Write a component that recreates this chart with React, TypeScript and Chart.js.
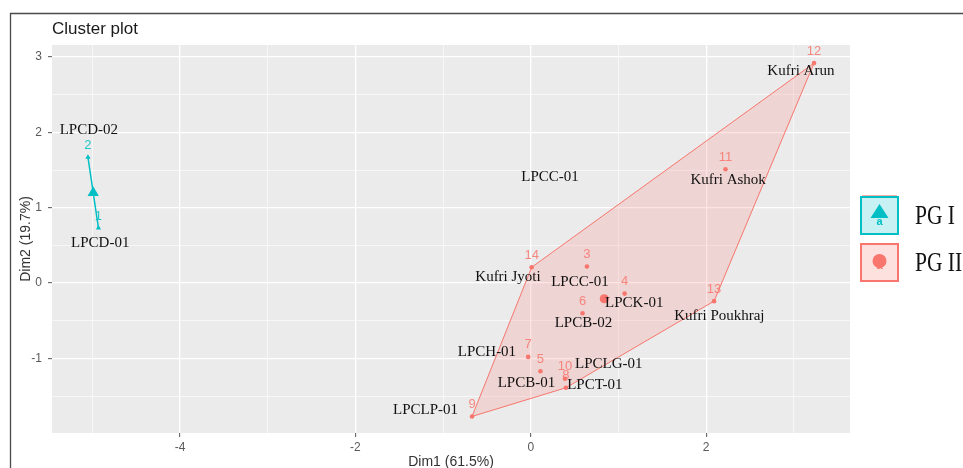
import React, { useEffect, useRef } from "react";
import { Chart, registerables } from "chart.js";

Chart.register(...registerables);

// ---------- data ----------
const pointIds = [1, 2, 3, 4, 5, 6, 7, 8, 9, 10, 11, 12, 13, 14];
const dim1 = [-4.93, -5.05, 0.64, 1.07, 0.11, 0.59, -0.03, 0.4, -0.67, 0.39, 2.22, 3.23, 2.09, 0.01];
const dim2 = [0.73, 1.67, 0.22, -0.14, -1.17, -0.4, -0.98, -1.39, -1.77, -1.27, 1.51, 2.92, -0.24, 0.21];
const clusterOf = [0, 0, 1, 1, 1, 1, 1, 1, 1, 1, 1, 1, 1, 1];
const clusterNames = ["PG I", "PG II"];
const clusterColors = ["#00BFC4", "#F8766D"];
const clusterRGB = ["0,191,196", "248,118,109"];
const clusterShapes = ["triangle", "circle"];

// text annotations (data coordinates)
const nameTexts = [
  "LPCD-02", "LPCD-01", "LPCC-01", "Kufri Jyoti", "LPCC-01", "LPCK-01", "LPCB-02",
  "Kufri Poukhraj", "LPCH-01", "LPCLG-01", "LPCB-01", "LPCT-01", "LPCLP-01", "Kufri Arun", "Kufri Ashok",
];
const nameX = [-5.04, -4.91, 0.22, -0.26, 0.56, 1.18, 0.6, 2.15, -0.5, 0.89, -0.05, 0.73, -1.2, 3.08, 2.25];
const nameY = [2.03, 0.53, 1.41, 0.08, 0.02, -0.27, -0.53, -0.44, -0.92, -1.08, -1.33, -1.36, -1.68, 2.81, 1.37];

// axes
const xTicks = [-5, -4, -3, -2, -1, 0, 1, 2, 3];
const xLabelled = [-4, -2, 0, 2];
const yTicks = [-1.5, -1, -0.5, 0, 0.5, 1, 1.5, 2, 2.5, 3];
const yLabelled = [-1, 0, 1, 2, 3];
const xRange = [-5.46, 3.64];
const yRange = [-1.99, 3.16];
const xTitle = "Dim1 (61.5%)";
const yTitle = "Dim2 (19.7%)";
const chartTitle = "Cluster plot";

type P = { x: number; y: number };

function convexHull(pts: P[]): P[] {
  const s = [...pts].sort((a, b) => a.x - b.x || a.y - b.y);
  if (s.length < 3) return [...s, s[0]];
  const cross = (o: P, a: P, b: P) => (a.x - o.x) * (b.y - o.y) - (a.y - o.y) * (b.x - o.x);
  const lower: P[] = [];
  for (const p of s) {
    while (lower.length >= 2 && cross(lower[lower.length - 2], lower[lower.length - 1], p) <= 0) lower.pop();
    lower.push(p);
  }
  const upper: P[] = [];
  for (let i = s.length - 1; i >= 0; i--) {
    const p = s[i];
    while (upper.length >= 2 && cross(upper[upper.length - 2], upper[upper.length - 1], p) <= 0) upper.pop();
    upper.push(p);
  }
  upper.pop();
  lower.pop();
  const h = [...lower, ...upper];
  return [...h, h[0]];
}

export default function App() {
  const ref = useRef<HTMLCanvasElement | null>(null);

  useEffect(() => {
    const canvas = ref.current;
    if (!canvas) return;

    const datasets: any[] = [];
    clusterNames.forEach((name, c) => {
      const pts: P[] = [];
      pointIds.forEach((_, i) => {
        if (clusterOf[i] === c) pts.push({ x: dim1[i], y: dim2[i] });
      });
      const cx = pts.reduce((a, p) => a + p.x, 0) / pts.length;
      const cy = pts.reduce((a, p) => a + p.y, 0) / pts.length;
      datasets.push({
        type: "line",
        label: name + " hull",
        data: convexHull(pts),
        borderColor: clusterColors[c],
        borderWidth: c === 0 ? 1.5 : 1,
        backgroundColor: `rgba(${clusterRGB[c]},0.2)`,
        fill: "shape",
        pointRadius: 0,
        tension: 0,
        order: 3,
      });
      datasets.push({
        type: "scatter",
        label: name,
        data: pts,
        pointStyle: clusterShapes[c],
        pointRadius: c === 0 ? 3 : 2.3,
        backgroundColor: clusterColors[c],
        borderColor: clusterColors[c],
        borderWidth: 0,
        order: 2,
      });
      datasets.push({
        type: "scatter",
        label: name + " centre",
        data: [{ x: cx, y: cy }],
        pointStyle: clusterShapes[c],
        pointRadius: c === 0 ? 6.5 : 4.5,
        backgroundColor: clusterColors[c],
        borderColor: clusterColors[c],
        borderWidth: 0,
        order: 1,
      });
    });

    const decor = {
      id: "decor",
      beforeDraw(chart: any) {
        const { ctx, chartArea: a, width, height } = chart;
        ctx.save();
        ctx.fillStyle = "#ffffff";
        ctx.fillRect(0, 0, width, height);
        ctx.fillStyle = "#EBEBEB";
        ctx.fillRect(a.left, a.top, a.right - a.left, a.bottom - a.top);
        ctx.restore();
      },
      afterDatasetsDraw(chart: any) {
        const { ctx, scales } = chart;
        const xs = scales.x;
        const ys = scales.y;
        ctx.save();
        // number labels
        ctx.font = "13px 'Liberation Sans', Arial, sans-serif";
        ctx.textAlign = "center";
        ctx.textBaseline = "middle";
        pointIds.forEach((id, i) => {
          const px = xs.getPixelForValue(dim1[i]);
          const py = ys.getPixelForValue(dim2[i]);
          ctx.fillStyle = `rgba(${clusterRGB[clusterOf[i]]},0.85)`;
          ctx.fillText(String(id), px, py - 12);
        });
        // name labels
        ctx.font = "15px 'Liberation Serif', 'Times New Roman', serif";
        ctx.fillStyle = "#111111";
        nameTexts.forEach((t, i) => {
          ctx.fillText(t, xs.getPixelForValue(nameX[i]), ys.getPixelForValue(nameY[i]));
        });
        ctx.restore();
      },
      afterDraw(chart: any) {
        const { ctx, chartArea: a, width, height } = chart;
        ctx.save();
        // frame
        ctx.strokeStyle = "#4a4a4a";
        ctx.lineWidth = 1.3;
        ctx.beginPath();
        ctx.moveTo(10.5, height);
        ctx.lineTo(10.5, 13.5);
        ctx.lineTo(width, 13.5);
        ctx.stroke();
        // title
        ctx.fillStyle = "#1a1a1a";
        ctx.font = "17px 'Liberation Sans', Arial, sans-serif";
        ctx.textAlign = "left";
        ctx.textBaseline = "middle";
        ctx.fillText(chartTitle, a.left, 29);
        // legend
        const size = 37;
        const gap = 47;
        const lx = a.right + 11;
        const mid = (a.top + a.bottom) / 2;
        const ly0 = mid - (gap + size) / 2;
        clusterNames.forEach((name, c) => {
          const y = ly0 + c * gap;
          ctx.fillStyle = `rgba(${clusterRGB[c]},0.22)`;
          ctx.fillRect(lx, y, size, size);
          ctx.strokeStyle = clusterColors[c];
          ctx.lineWidth = 2;
          ctx.strokeRect(lx, y, size, size);
          const cx = lx + size / 2;
          ctx.fillStyle = clusterColors[c];
          if (clusterShapes[c] === "triangle") {
            ctx.beginPath();
            ctx.moveTo(cx, y + 7);
            ctx.lineTo(cx + 9, y + 21);
            ctx.lineTo(cx - 9, y + 21);
            ctx.closePath();
            ctx.fill();
          } else {
            ctx.beginPath();
            ctx.arc(cx, y + 17, 7, 0, Math.PI * 2);
            ctx.fill();
          }
          ctx.font = "bold 11px 'Liberation Sans', Arial, sans-serif";
          ctx.textAlign = "center";
          ctx.textBaseline = "middle";
          ctx.fillText("a", cx, y + (c === 0 ? 25 : 22));
          // label text
          ctx.save();
          ctx.translate(lx + size + 17, y + size / 2 + 1);
          ctx.scale(1, 1.25);
          ctx.fillStyle = "#111111";
          ctx.font = "21.5px 'Liberation Serif', 'Times New Roman', serif";
          ctx.textAlign = "left";
          ctx.textBaseline = "middle";
          ctx.fillText(name, 0, 0);
          ctx.restore();
        });
        // small accent line on top of the legend
        ctx.strokeStyle = "rgba(248,118,109,0.6)";
        ctx.lineWidth = 1;
        ctx.beginPath();
        ctx.moveTo(lx + 1, ly0 - 1.5);
        ctx.lineTo(lx + size - 1, ly0 - 1.5);
        ctx.stroke();
        ctx.restore();
      },
    };

    const gridOpts = (labelled: number[]) => ({
      color: "#ffffff",
      lineWidth: (ctx: any) => (ctx.tick && labelled.includes(ctx.tick.value) ? 1.3 : 0.6),
      tickColor: (ctx: any) => (ctx.tick && labelled.includes(ctx.tick.value) ? "#555555" : "rgba(0,0,0,0)"),
      tickLength: 4,
      tickWidth: 1,
      drawTicks: true,
    });

    const chart = new Chart(canvas, {
      type: "scatter",
      data: { datasets },
      plugins: [decor],
      options: {
        animation: false,
        responsive: false,
        devicePixelRatio: 1,
        layout: { padding: { left: 0, right: 113, top: 45, bottom: 0 } },
        plugins: {
          legend: { display: false },
          tooltip: { enabled: false },
          title: { display: false },
        },
        scales: {
          x: {
            type: "linear",
            min: xRange[0],
            max: xRange[1],
            afterBuildTicks: (s: any) => {
              s.ticks = xTicks.map((v) => ({ value: v }));
            },
            afterFit: (s: any) => {
              s.height = 35;
            },
            ticks: {
              autoSkip: false,
              maxRotation: 0,
              padding: 3,
              color: "#595959",
              font: { size: 12, family: "'Liberation Sans', Arial, sans-serif" },
              callback: (v: any) => (xLabelled.includes(Number(v)) ? String(v) : ""),
            },
            grid: gridOpts(xLabelled),
            border: { display: false },
            title: {
              display: true,
              text: xTitle,
              color: "#333333",
              font: { size: 14, lineHeight: 0.86, family: "'Liberation Sans', Arial, sans-serif" },
              padding: 0,
            },
          },
          y: {
            type: "linear",
            min: yRange[0],
            max: yRange[1],
            afterBuildTicks: (s: any) => {
              s.ticks = yTicks.map((v) => ({ value: v }));
            },
            afterFit: (s: any) => {
              s.width = 52;
            },
            ticks: {
              autoSkip: false,
              padding: 6,
              color: "#595959",
              font: { size: 12, family: "'Liberation Sans', Arial, sans-serif" },
              callback: (v: any) => (yLabelled.includes(Number(v)) ? String(v) : ""),
            },
            grid: gridOpts(yLabelled),
            border: { display: false },
            title: {
              display: true,
              text: yTitle,
              color: "#333333",
              font: { size: 14, lineHeight: 1, family: "'Liberation Sans', Arial, sans-serif" },
              padding: { top: 19, bottom: 0 },
            },
          },
        },
      } as any,
    });

    return () => chart.destroy();
  }, []);

  return (
    <div style={{ position: "fixed", left: 0, top: 0, width: 963, height: 468, background: "#fff" }}>
      <canvas ref={ref} width={963} height={468} style={{ display: "block", width: 963, height: 468 }} />
    </div>
  );
}
